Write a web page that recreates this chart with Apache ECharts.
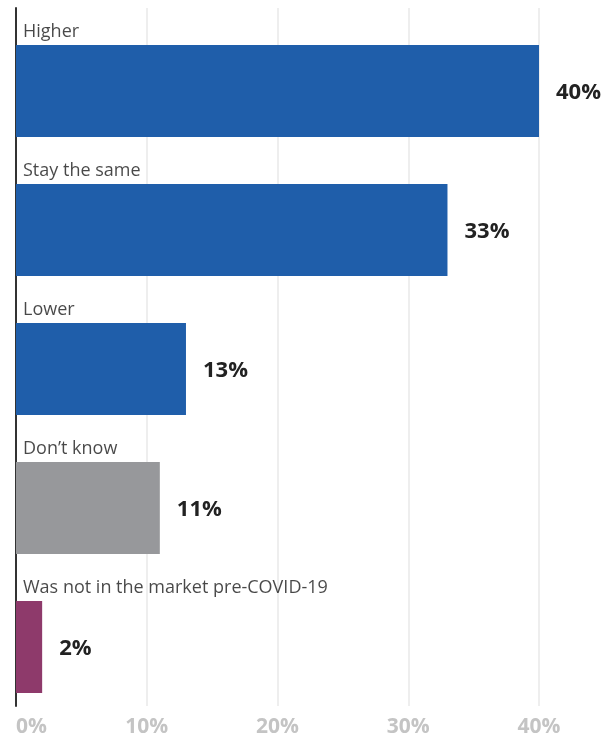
<!DOCTYPE html>
<html>
<head>
<meta charset="utf-8">
<script src="https://cdn.jsdelivr.net/npm/echarts@6/dist/echarts.min.js"></script>
<style>
  html, body { margin: 0; padding: 0; background: #fff; }
  #main { width: 614px; height: 738px; }
</style>
</head>
<body>
<div id="main"></div>
<script>
const categories = ['Higher', 'Stay the same', 'Lower', 'Don\u2019t know', 'Was not in the market pre-COVID-19']
const values = [40, 33, 13, 11, 2]
const barColors = ['#1f5eaa', '#1f5eaa', '#1f5eaa', '#97989b', '#8e3a6b']
const xTicks = [0, 10, 20, 30, 40]

const font = '"Open Sans", "Noto Sans", sans-serif'
const chart = echarts.init(document.getElementById('main'))

const option = {
  animation: false,
  grid: [
    // frame: axis line + gridlines
    { left: 16, right: 75, top: 8, height: 703 },
    // bars
    { left: 16, right: 75, top: 21.5, height: 695 }
  ],
  xAxis: [
    {
      gridIndex: 0,
      type: 'value',
      min: xTicks[0],
      max: xTicks[xTicks.length - 1],
      interval: 10,
      axisLine: { show: false },
      axisTick: { show: false },
      splitLine: { show: true, lineStyle: { color: '#eeeeee', width: 2 } },
      axisLabel: {
        formatter: '{value}%',
        color: '#c4c4c4',
        fontWeight: 'bold',
        fontSize: 21,
        fontFamily: font,
        margin: 11,
        alignMinLabel: 'left'
      }
    },
    {
      gridIndex: 1,
      type: 'value',
      min: xTicks[0],
      max: xTicks[xTicks.length - 1],
      show: false
    }
  ],
  yAxis: [
    {
      gridIndex: 0,
      type: 'category',
      data: categories,
      inverse: true,
      axisLine: { show: true, lineStyle: { color: '#333333', width: 2 } },
      axisTick: { show: false },
      axisLabel: { show: false },
      splitLine: { show: false }
    },
    {
      gridIndex: 1,
      type: 'category',
      data: categories,
      inverse: true,
      show: false
    }
  ],
  series: [
    {
      type: 'bar',
      xAxisIndex: 1,
      yAxisIndex: 1,
      barWidth: 92,
      data: values.map((v, i) => ({ value: v, itemStyle: { color: barColors[i] } })),
      label: {
        show: true,
        position: 'right',
        distance: 17,
        offset: [0, 2],
        formatter: '{c}%',
        color: '#222222',
        fontWeight: 'bold',
        fontSize: 22,
        fontFamily: font
      }
    },
    {
      // category names above each bar
      type: 'scatter',
      xAxisIndex: 1,
      yAxisIndex: 1,
      symbolSize: 0,
      silent: true,
      data: categories.map(c => ({ value: [0, c], name: c })),
      label: {
        show: true,
        position: 'right',
        distance: 7,
        offset: [0, -59],
        formatter: p => p.name,
        color: '#1a1a1a',
        fontSize: 18,
        fontFamily: font
      }
    }
  ]
}

chart.setOption(option)
</script>
</body>
</html>
